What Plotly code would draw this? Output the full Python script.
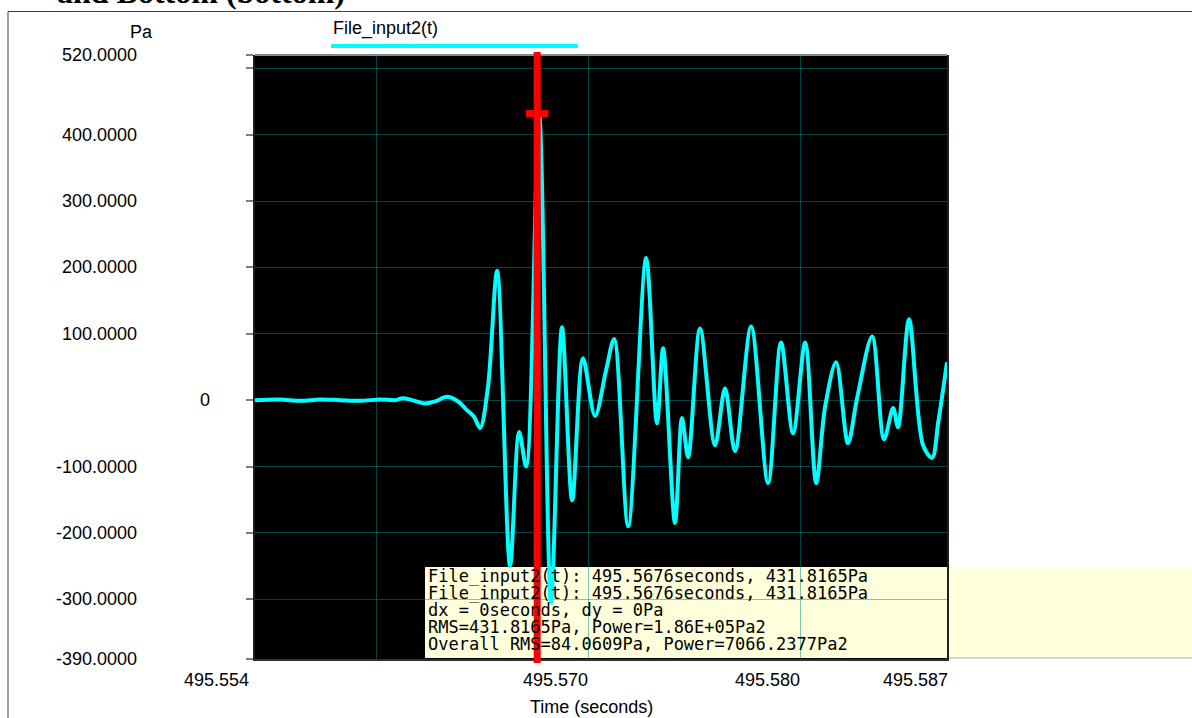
import plotly.graph_objects as go

# ---------------- data ----------------
time_s = [
    495.55429, 495.55547, 495.55642, 495.55736, 495.55830, 495.55925, 495.56019,
    495.56090, 495.56127, 495.56170, 495.56231, 495.56278, 495.56335, 495.56387,
    495.56429, 495.56462, 495.56491, 495.56528, 495.56571, 495.56632, 495.56675,
    495.56708, 495.56769, 495.56825, 495.56877, 495.56925, 495.56976, 495.57033,
    495.57085, 495.57123, 495.57189, 495.57274, 495.57325, 495.57354, 495.57410,
    495.57443, 495.57472, 495.57528, 495.57599, 495.57646, 495.57693, 495.57769,
    495.57849, 495.57910, 495.57967, 495.58024, 495.58076, 495.58118, 495.58170,
    495.58226, 495.58269, 495.58340, 495.58396, 495.58439, 495.58462, 495.58514,
    495.58580, 495.58623, 495.58651, 495.58693,
]
pressure_pa = [
    0, 1, -1, 1, 0, -1, 1,
    0, 3, 0, -5, -2, 5, -2,
    -15, -25, -42, 20, 195, -250, -48,
    -100, 432, -305, 110, -151, 63, -24,
    45, 92, -190, 214, -35, 78, -185,
    -27, -86, 108, -68, 18, -77, 111,
    -125, 87, -50, 87, -125, -10, 57,
    -65, 3, 96, -59, -12, -41, 122,
    -68, -87, -35, 57,
]
series_name = "File_input2(t)"
cursor_time = 495.5676
cursor_value = 431.8165

x_range = [495.55429, 495.58693]
x_grid = [495.560, 495.570, 495.580]
x_tick_vals = [495.554, 495.570, 495.580, 495.587]
x_tick_text = ["495.554", "495.570", "495.580", "495.587"]

y_range = [-390, 520]
y_grid = [520, 500, 400, 300, 200, 100, 0, -100, -200, -300, -390]
y_tick_vals = [520, 400, 300, 200, 100, 0, -100, -200, -300, -390]
y_tick_text = ["520.0000", "400.0000", "300.0000", "200.0000", "100.0000", "0",
               "-100.0000", "-200.0000", "-300.0000", "-390.0000"]

info_lines = [
    "File_input2(t): 495.5676seconds, 431.8165Pa",
    "File_input2(t): 495.5676seconds, 431.8165Pa",
    "dx = 0seconds, dy = 0Pa",
    "RMS=431.8165Pa, Power=1.86E+05Pa2",
    "Overall RMS=84.0609Pa, Power=7066.2377Pa2",
]
title_text = "and Bottom (bottom)"
y_unit = "Pa"
x_title = "Time (seconds)"

# ---------------- layout geometry ----------------
W, H = 1192, 718
L, R, T, B = 255, 947, 55, 659


def px(xp):
    return (xp - L) / (R - L)


def py(yp):
    return (B - yp) / (B - T)


def x_to_paper(v):
    return (v - x_range[0]) / (x_range[1] - x_range[0])


SANS = "Liberation Sans, Arial, sans-serif"
MONO = "DejaVu Sans Mono, monospace"
GRID = "rgba(0,140,140,0.5)"

fig = go.Figure()

fig.add_trace(go.Scatter(
    x=time_s, y=pressure_pa, mode="lines", name=series_name,
    line=dict(color="#00ffff", width=4, shape="spline", smoothing=0.9),
    showlegend=False, hoverinfo="skip",
))

# cursor marker
fig.add_trace(go.Scatter(
    x=[cursor_time], y=[cursor_value], mode="markers",
    marker=dict(symbol="line-ew", size=16, line=dict(color="#ff0000", width=7)),
    showlegend=False, hoverinfo="skip", cliponaxis=False,
))

shapes = []
# info box (below gridlines and traces)
shapes.append(dict(type="rect", xref="paper", yref="paper", layer="below",
                   x0=px(425), x1=px(1200), y0=py(658), y1=py(567),
                   fillcolor="#ffffdc", line=dict(width=0)))
# thin grey bottom edge of the info box outside the plot
shapes.append(dict(type="line", xref="paper", yref="paper", layer="below",
                   x0=px(947), x1=px(1200), y0=py(658), y1=py(658),
                   line=dict(color="#b0b0b0", width=1)))
# outer frame
shapes.append(dict(type="rect", xref="paper", yref="paper", layer="above",
                   x0=px(8), x1=px(1300), y0=py(800), y1=py(11.5),
                   line=dict(color="#404040", width=1), fillcolor="rgba(0,0,0,0)"))
# top plot border (grey)
shapes.append(dict(type="line", xref="paper", yref="paper", layer="above",
                   x0=0, x1=1, y0=1, y1=1, line=dict(color="#8a8a8a", width=2)))
# legend line
shapes.append(dict(type="line", xref="paper", yref="paper", layer="above",
                   x0=px(331), x1=px(578), y0=py(46), y1=py(46),
                   line=dict(color="#00ffff", width=4)))
# cursor line
shapes.append(dict(type="line", xref="x", yref="paper", layer="above",
                   x0=cursor_time, x1=cursor_time, y0=py(663), y1=py(52),
                   line=dict(color="#ff0000", width=7)))
fig.update_layout(shapes=shapes)

ann = []
ann.append(dict(text=f"<b>{title_text}</b>", xref="paper", yref="paper",
                x=px(55), y=py(-8), xanchor="left", yanchor="middle", showarrow=False,
                font=dict(family="Liberation Serif, Times New Roman, serif", size=32, color="black")))
ann.append(dict(text=y_unit, xref="paper", yref="paper", x=px(141), y=py(32),
                xanchor="center", yanchor="middle", showarrow=False,
                font=dict(family=SANS, size=18, color="black")))
ann.append(dict(text=series_name, xref="paper", yref="paper", x=px(331), y=py(29),
                xanchor="left", yanchor="middle", showarrow=False,
                font=dict(family=SANS, size=18, color="black")))
ann.append(dict(text=x_title, xref="paper", yref="paper", x=px(591), y=py(707),
                xanchor="center", yanchor="middle", showarrow=False,
                font=dict(family=SANS, size=18, color="black")))
for v, t in zip(y_tick_vals, y_tick_text):
    right_edge = 212 if t == "0" else 139
    ann.append(dict(text=t, xref="paper", yref="y", x=px(right_edge), y=v,
                    xanchor="right", yanchor="middle", showarrow=False,
                    font=dict(family=SANS, size=18, color="black")))
for v, t in zip(x_tick_vals, x_tick_text):
    ann.append(dict(text=t, xref="paper", yref="paper", x=x_to_paper(v), y=py(680),
                    xanchor="right", yanchor="middle", showarrow=False, xshift=2,
                    font=dict(family=SANS, size=18, color="black")))
line_y = [576, 593, 610, 627, 644]
for yy, t in zip(line_y, info_lines):
    ann.append(dict(text=t, xref="paper", yref="paper", x=px(426), y=py(yy),
                    xanchor="left", yanchor="middle", showarrow=False,
                    font=dict(family=MONO, size=17, color="black")))
fig.update_layout(annotations=ann)

fig.update_layout(
    width=W, height=H,
    margin=dict(l=L, r=W - R, t=T, b=H - B, pad=0),
    paper_bgcolor="white", plot_bgcolor="black",
    showlegend=False,
    xaxis=dict(range=x_range, tickvals=x_grid, showticklabels=False, ticks="",
               showgrid=True, gridcolor=GRID, gridwidth=1, zeroline=False,
               showline=True, linecolor="#303030", linewidth=2, mirror=False),
    yaxis=dict(range=y_range, tickvals=y_grid, showticklabels=False, ticks="outside",
               ticklen=7, tickcolor="#808080", tickwidth=2,
               showgrid=True, gridcolor=GRID, gridwidth=1, zeroline=False,
               showline=True, linecolor="#202020", linewidth=2, mirror=True),
)

fig.write_html("out.html", config={"displayModeBar": False},
               post_script="document.body.style.margin='0';")
